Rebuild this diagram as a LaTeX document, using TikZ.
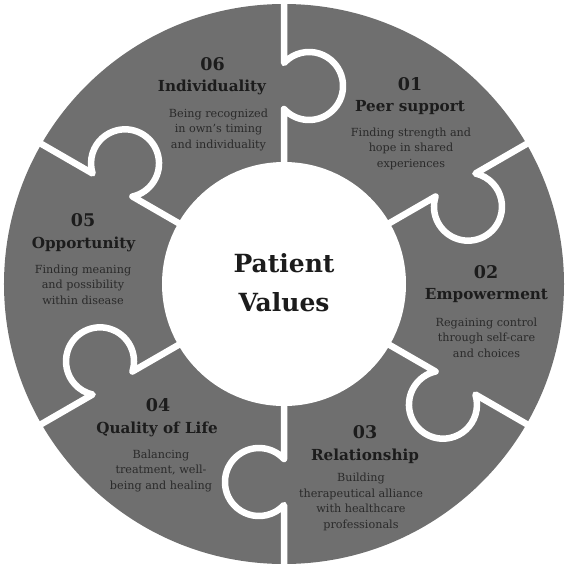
\documentclass[tikz,border=0pt]{standalone}
\usepackage{fontspec}
\setmainfont{DejaVu Serif}
\definecolor{piecegray}{RGB}{111,111,111}
\definecolor{headink}{RGB}{28,28,28}
\definecolor{bodyink}{RGB}{42,42,42}
\tikzset{
  gapline/.style={draw=white, line width=6.5pt, line join=round},
  numtext/.style={anchor=base, inner sep=0pt, text=headink, font=\bfseries\fontsize{17.5}{20}\selectfont},
  titletext/.style={anchor=base, inner sep=0pt, text=headink, font=\bfseries\fontsize{15.2}{18}\selectfont},
  desctext/.style={anchor=base, inner sep=0pt, align=center, text=bodyink, font=\fontsize{11.2}{15.5}\selectfont},
  centertext/.style={anchor=base, inner sep=0pt, text=headink, font=\bfseries\fontsize{25}{39}\selectfont}
}
\begin{document}
\begin{tikzpicture}[x=1pt,y=1pt]
\useasboundingbox (-284,-282) rectangle (283,284);
\fill[piecegray] (0,0) circle[radius=280];
\fill[white] (0,0) circle[radius=122];
\foreach \a in {90,30,-30,-90,-150,150}{
  \draw[gapline, rotate=\a] (100,0) -- (175,0) arc[start angle=132.6, end angle=407.4, radius=34] -- (290,0);
}
% centre (anchor=base of a node = baseline of its line)
\node[centertext] (cP) at (0,11.5) {Patient};
\node[centertext] (cV) at (0,-27.5) {Values};
% 01  (desc anchor = baseline of last line)
\node[numtext] (n1) at (126,194) {01};
\node[titletext] (t1) at (126,172.3) {Peer support};
\node[desctext] (d1) at (127,117) {Finding strength and\\hope in shared\\experiences};
% 02
\node[numtext] (n2) at (202,6) {02};
\node[titletext] (t2) at (202.5,-15.7) {Empowerment};
\node[desctext] (d2) at (202.5,-73) {Regaining control\\through self-care\\and choices};
% 03
\node[numtext] (n3) at (81,-154.3) {03};
\node[titletext] (t3) at (81,-176) {Relationship};
\node[desctext] (d3) at (77,-244) {Building\\therapeutical alliance\\with healthcare\\professionals};
% 04
\node[numtext] (n4) at (-126,-127.7) {04};
\node[titletext] (t4) at (-127,-149.4) {Quality of Life};
\node[desctext] (d4) at (-123,-205) {Balancing\\treatment, well-\\being and healing};
% 05
\node[numtext] (n5) at (-201,57.3) {05};
\node[titletext] (t5) at (-200.5,35.6) {Opportunity};
\node[desctext] (d5) at (-201,-20.3) {Finding meaning\\and possibility\\within disease};
% 06
\node[numtext] (n6) at (-71.5,214) {06};
\node[titletext] (t6) at (-72,192.3) {Individuality};
\node[desctext] (d6) at (-65.5,136) {Being recognized\\in own’s timing\\and individuality};
\end{tikzpicture}
\end{document}
